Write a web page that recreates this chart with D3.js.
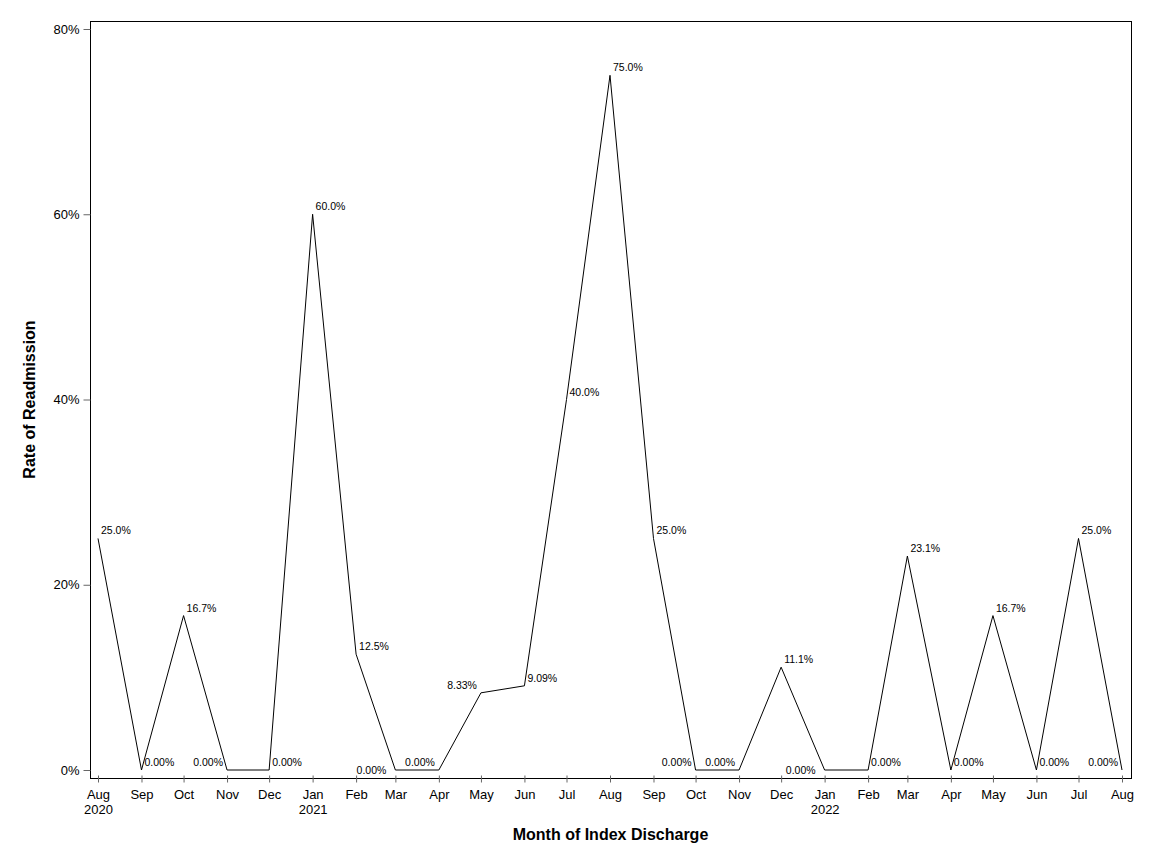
<!DOCTYPE html>
<html>
<head>
<meta charset="utf-8">
<script src="https://cdn.jsdelivr.net/npm/d3@7"></script>
<style>
  body { margin: 0; background: #fff; }
  svg { display: block; font-family: "Liberation Sans", Arial, sans-serif; }
</style>
</head>
<body>
<div id="chart"></div>
<script>
// monthly readmission rates, Aug 2020 .. Aug 2022
var months = ["2020-08", "2020-09", "2020-10", "2020-11", "2020-12",
  "2021-01", "2021-02", "2021-03", "2021-04", "2021-05", "2021-06", "2021-07",
  "2021-08", "2021-09", "2021-10", "2021-11", "2021-12",
  "2022-01", "2022-02", "2022-03", "2022-04", "2022-05", "2022-06", "2022-07", "2022-08"];
var rates = [0.25, 0, 0.1667, 0, 0,
  0.60, 0.125, 0, 0, 0.0833, 0.0909, 0.40,
  0.75, 0.25, 0, 0, 0.111,
  0, 0, 0.231, 0, 0.1667, 0, 0.25, 0];
var yTicks = [0, 0.2, 0.4, 0.6, 0.8];

// where each point label sits (NE = above right, NW = above left, W = left)
var labelSide = ["NE", "NE", "NE", "NW", "NE",
  "NE", "NE", "W", "NW", "NW", "NE", "NE",
  "NE", "NE", "NW", "NW", "NE",
  "W", "NE", "NE", "NE", "NE", "NE", "NE", "NW"];

var W = 1152, H = 864,
    frame = { left: 90, top: 21, right: 1131, bottom: 778 };

var parse = d3.timeParse("%Y-%m");
var data = months.map(function (m, i) {
  return { date: parse(m), rate: rates[i], side: labelSide[i] };
});

var x = d3.scaleTime()
  .domain(d3.extent(data, function (d) { return d.date; }))
  .range([98, 1122]);
var y = d3.scaleLinear()
  .domain([0, 0.8])
  .range([770, 29]);

var svg = d3.select("#chart").append("svg")
  .attr("width", W).attr("height", H);

// frame
svg.append("rect")
  .attr("x", frame.left + 0.5).attr("y", frame.top + 0.5)
  .attr("width", frame.right - frame.left).attr("height", frame.bottom - frame.top)
  .attr("fill", "none").attr("stroke", "#000");

// y axis
var yAxis = svg.append("g")
  .attr("transform", "translate(" + (frame.left + 0.5) + ",0)")
  .call(d3.axisLeft(y).tickValues(yTicks).tickFormat(d3.format(".0%")).tickSize(7).tickPadding(4));
yAxis.select(".domain").remove();
yAxis.selectAll(".tick line").attr("stroke", "#666");
yAxis.selectAll("text").attr("font-size", 13).attr("fill", "#000").attr("font-family", null);

// x axis
var fmtMonth = d3.timeFormat("%b"), fmtYear = d3.timeFormat("%Y");
var xAxis = svg.append("g")
  .attr("transform", "translate(0," + (frame.bottom + 0.5) + ")")
  .call(d3.axisBottom(x).tickValues(data.map(function (d) { return d.date; })).tickSize(4).tickFormat(""));
xAxis.select(".domain").remove();
xAxis.selectAll(".tick line").attr("y1", -3).attr("y2", 4).attr("stroke", "#666");
xAxis.selectAll(".tick text").remove();
xAxis.selectAll(".tick").each(function (d, i) {
  var t = d3.select(this).append("text")
    .attr("text-anchor", "middle").attr("font-size", 13).attr("fill", "#000")
    .attr("y", 20);
  t.append("tspan").attr("x", 0).text(fmtMonth(d));
  if (i === 0 || d.getMonth() === 0) {
    t.append("tspan").attr("x", 0).attr("dy", 15).text(fmtYear(d));
  }
});

// line
var line = d3.line()
  .x(function (d) { return x(d.date); })
  .y(function (d) { return y(d.rate); });
svg.append("path").datum(data)
  .attr("d", line)
  .attr("fill", "none").attr("stroke", "#000").attr("stroke-width", 1);

// point labels
var fmtRate = d3.format(".3p");
svg.append("g").selectAll("text").data(data).join("text")
  .attr("font-size", 10.5).attr("fill", "#000")
  .attr("text-anchor", function (d) { return d.side === "NE" ? "start" : "end"; })
  .attr("x", function (d) {
    var px = x(d.date);
    return d.side === "NE" ? px + 3 : d.side === "NW" ? px - 4 : px - 9;
  })
  .attr("y", function (d) {
    var py = y(d.rate);
    return d.side === "W" ? py + 4 : py - 4;
  })
  .text(function (d) { return fmtRate(d.rate); });

// axis titles
svg.append("text")
  .attr("x", (frame.left + frame.right) / 2).attr("y", 840)
  .attr("text-anchor", "middle").attr("font-size", 16).attr("font-weight", "bold")
  .text("Month of Index Discharge");
svg.append("text")
  .attr("transform", "translate(35," + ((frame.top + frame.bottom) / 2) + ") rotate(-90)")
  .attr("text-anchor", "middle").attr("font-size", 16).attr("font-weight", "bold")
  .text("Rate of Readmission");
</script>
</body>
</html>
